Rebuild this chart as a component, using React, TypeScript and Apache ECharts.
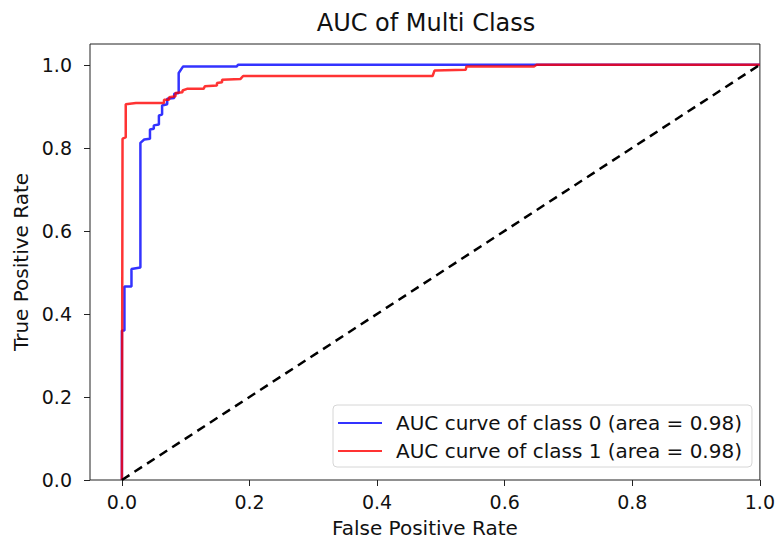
import React, { useEffect, useRef } from "react";
import * as echarts from "echarts";

const xTicks = [0, 0.2, 0.4, 0.6, 0.8, 1.0];
const yTicks = [0, 0.2, 0.4, 0.6, 0.8, 1.0];

const class0Fpr = [0, 0, 0.004, 0.004, 0.015, 0.015, 0.029, 0.029, 0.035, 0.044, 0.044, 0.05, 0.05, 0.058, 0.058, 0.063, 0.063, 0.071, 0.071, 0.082, 0.082, 0.089, 0.089, 0.096, 0.18, 0.182, 1.0];
const class0Tpr = [0, 0.36, 0.36, 0.466, 0.466, 0.508, 0.512, 0.812, 0.82, 0.822, 0.844, 0.846, 0.854, 0.856, 0.878, 0.88, 0.902, 0.905, 0.918, 0.92, 0.93, 0.932, 0.98, 0.996, 0.996, 1.0, 1.0];

const class1Fpr = [0, 0.001, 0.006, 0.006, 0.022, 0.066, 0.066, 0.074, 0.074, 0.084, 0.084, 0.095, 0.095, 0.102, 0.128, 0.13, 0.149, 0.149, 0.157, 0.157, 0.186, 0.19, 0.487, 0.49, 0.539, 0.54, 0.646, 0.65, 1.0];
const class1Tpr = [0, 0.822, 0.825, 0.905, 0.908, 0.908, 0.916, 0.916, 0.922, 0.924, 0.932, 0.934, 0.938, 0.942, 0.942, 0.948, 0.95, 0.956, 0.958, 0.964, 0.966, 0.973, 0.973, 0.986, 0.988, 0.996, 0.996, 1.0, 1.0];

const diagX = [0, 1];
const diagY = [0, 1];

const seriesNames = ["AUC curve of class 0 (area = 0.98)", "AUC curve of class 1 (area = 0.98)"];

const FONT = "DejaVu Sans";

export default function App() {
  const ref = useRef<HTMLDivElement>(null);
  useEffect(() => {
    if (!ref.current) return;
    const chart = echarts.init(ref.current, null, { renderer: "svg" });
    const zip = (a: number[], b: number[]) => a.map((v, i) => [v, b[i]]);
    chart.setOption({
      animation: false,
      backgroundColor: "#fff",
      textStyle: { fontFamily: FONT },
      title: {
        text: "AUC of Multi Class",
        left: 426,
        top: 11,
        padding: 0,
        textAlign: "center",
        textStyle: { fontFamily: FONT, fontSize: 24, fontWeight: "normal", color: "#111" },
      },
      grid: {
        left: 90,
        right: 16,
        top: 44,
        bottom: 61,
        show: true,
        borderColor: "#222",
        borderWidth: 1,
        backgroundColor: "#fff",
      },
      legend: {
        orient: "vertical",
        left: 333,
        top: 405,
        padding: [8, 10, 6, 4],
        itemGap: 8,
        itemWidth: 44,
        itemHeight: 22,
        backgroundColor: "#fff",
        borderColor: "#d6d6d6",
        borderWidth: 1,
        borderRadius: 4,
        data: seriesNames,
        itemStyle: { opacity: 0 },
        textStyle: { fontFamily: FONT, fontSize: 20, color: "#111", padding: [0, 0, 0, 9] },
      },
      xAxis: {
        type: "value",
        min: -0.05,
        max: 1.0,
        name: "False Positive Rate",
        nameLocation: "middle",
        nameGap: 38,
        nameTextStyle: { fontFamily: FONT, fontSize: 20, color: "#111" },
        axisLine: { show: false, onZero: false },
        splitLine: { show: false },
        axisTick: { show: true, inside: false, length: 6, customValues: xTicks, lineStyle: { color: "#222" } },
        axisLabel: {
          customValues: xTicks,
          formatter: (v: number) => v.toFixed(1),
          fontFamily: FONT,
          fontSize: 19,
          color: "#111",
          margin: 12,
        },
      },
      yAxis: {
        type: "value",
        min: 0,
        max: 1.05,
        name: "True Positive Rate",
        nameLocation: "middle",
        nameGap: 58,
        nameTextStyle: { fontFamily: FONT, fontSize: 20, color: "#111" },
        axisLine: { show: false, onZero: false },
        splitLine: { show: false },
        axisTick: { show: true, inside: false, length: 6, customValues: yTicks, lineStyle: { color: "#222" } },
        axisLabel: {
          customValues: yTicks,
          formatter: (v: number) => v.toFixed(1),
          fontFamily: FONT,
          fontSize: 19,
          color: "#111",
          margin: 18,
        },
      },
      series: [
        {
          name: seriesNames[0],
          type: "line",
          data: zip(class0Fpr, class0Tpr),
          symbol: "none",
          color: "rgba(0,0,255,0.8)",
          lineStyle: { width: 2.5, color: "rgba(0,0,255,0.8)" },
          z: 3,
        },
        {
          name: seriesNames[1],
          type: "line",
          data: zip(class1Fpr, class1Tpr),
          symbol: "none",
          color: "rgba(255,0,0,0.8)",
          lineStyle: { width: 2.5, color: "rgba(255,0,0,0.8)" },
          z: 4,
        },
        {
          name: "diag",
          type: "line",
          data: zip(diagX, diagY),
          symbol: "none",
          color: "#000",
          lineStyle: { width: 2.5, color: "#000", type: [9, 6] },
          z: 5,
        },
      ],
    });
    return () => chart.dispose();
  }, []);
  return (
    <div
      ref={ref}
      style={{ position: "fixed", left: 0, top: 0, width: 778, height: 543 }}
    />
  );
}
